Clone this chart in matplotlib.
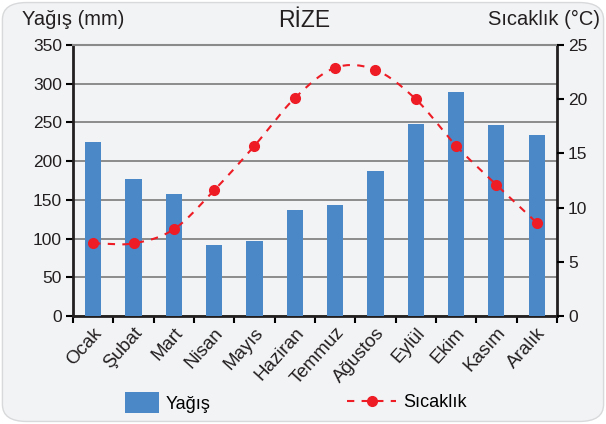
import numpy as np
import matplotlib.pyplot as plt
import matplotlib.transforms as mtransforms
from matplotlib.patches import FancyBboxPatch, Patch
from matplotlib.lines import Line2D

plt.rcParams['font.family'] = ['Liberation Sans', 'DejaVu Sans']

aylar = ['Ocak', 'Şubat', 'Mart', 'Nisan', 'Mayıs', 'Haziran', 'Temmuz',
         'Ağustos', 'Eylül', 'Ekim', 'Kasım', 'Aralık']
yagis = [225, 177, 158, 92, 97, 137, 143, 187, 248, 289, 247, 234]
sicaklik = [6.7, 6.7, 8.0, 11.6, 15.7, 20.1, 22.9, 22.7, 20.0, 15.7, 12.1, 8.6]

bar_renk = '#4a88c7'
cizgi_renk = '#ee1c25'
zemin = '#f2f3f5'
yazi = '#231f20'

fig = plt.figure(figsize=(6.06, 4.24), dpi=100)
fig.patch.set_facecolor('white')
# yuvarlak köşeli arka plan
fig.patches.append(FancyBboxPatch((0.004, 0.006), 0.992, 0.988,
                                  boxstyle='round,pad=0,rounding_size=0.04',
                                  transform=fig.transFigure, facecolor=zemin,
                                  edgecolor='#d8d9db', linewidth=1, zorder=-5))

ax = fig.add_axes([0.1205, 0.2547, 0.7985, 0.6392])
ax.set_facecolor(zemin)
x = np.arange(len(aylar))
ax.bar(x, yagis, width=0.4, color=bar_renk, zorder=3)
ax.set_xlim(-0.5, 11.5)
ax.set_ylim(0, 350)
ax.set_yticks(range(0, 351, 50))
ax.yaxis.grid(True, color='#7a7a7a', linewidth=1.2, zorder=1)
ax.set_xticks(np.arange(-0.5, 12, 1))
ax.set_xticklabels([])
ax.set_xticks(x, minor=True)
ax.set_xticklabels(aylar, minor=True, rotation=48, ha='right', va='top',
                   rotation_mode='anchor', fontsize=13.5, color=yazi)
kaydir = mtransforms.ScaledTranslation(0.14, -0.05, fig.dpi_scale_trans)
for lbl in ax.get_xticklabels(minor=True):
    lbl.set_transform(lbl.get_transform() + kaydir)
ax.tick_params(axis='x', which='minor', length=0, pad=6)
ax.tick_params(axis='x', which='major', length=5, width=1.5, direction='out')
ax.tick_params(axis='y', length=5, width=1.5, labelsize=12.5, labelcolor=yazi, pad=3)
for s in ['left', 'bottom', 'right']:
    ax.spines[s].set_linewidth(2)
    ax.spines[s].set_color(yazi)
ax.spines['top'].set_color('#8a8a8a')
ax.spines['top'].set_linewidth(1.5)

ax2 = ax.twinx()
ax2.set_ylim(0, 25)
ax2.set_yticks(range(0, 26, 5))
ax2.tick_params(axis='y', length=5, width=1.5, labelsize=12.5, labelcolor=yazi, pad=3)
for s in ['left', 'bottom', 'right', 'top']:
    ax2.spines[s].set_visible(False)

# Catmull-Rom ile yumuşak eğri
def yumusat(xs, ys, n=20):
    xs = np.asarray(xs, float)
    ys = np.asarray(ys, float)
    px = np.concatenate([[2 * xs[0] - xs[1]], xs, [2 * xs[-1] - xs[-2]]])
    py = np.concatenate([[2 * ys[0] - ys[1]], ys, [2 * ys[-1] - ys[-2]]])
    ox, oy = [], []
    t = np.linspace(0, 1, n, endpoint=False)
    for i in range(1, len(px) - 2):
        for arr, out in ((px, ox), (py, oy)):
            p0, p1, p2, p3 = arr[i - 1], arr[i], arr[i + 1], arr[i + 2]
            out.extend(0.5 * ((2 * p1) + (-p0 + p2) * t + (2 * p0 - 5 * p1 + 4 * p2 - p3) * t ** 2
                              + (-p0 + 3 * p1 - 3 * p2 + p3) * t ** 3))
    ox.append(xs[-1])
    oy.append(ys[-1])
    return np.array(ox), np.array(oy)

sx, sy = yumusat(x, sicaklik)
ax2.plot(sx, sy, color=cizgi_renk, linestyle=(0, (3.5, 3.5)), linewidth=1.5, zorder=4)
ax2.plot(x, sicaklik, 'o', color=cizgi_renk, markersize=7, zorder=5)

fig.text(0.036, 0.955, 'Yağış (mm)', fontsize=14.5, color=yazi, va='center')
fig.text(0.502, 0.952, 'RİZE', fontsize=16.5, color=yazi, ha='center', va='center')
fig.text(0.99, 0.955, 'Sıcaklık (°C)', fontsize=14.5, color=yazi, ha='right', va='center')

handles = [Patch(facecolor=bar_renk, edgecolor='none'),
           Line2D([], [], color=cizgi_renk, linestyle=(0, (3.5, 3.5)), linewidth=1.5,
                  marker='o', markersize=7)]
fig.legend(handles[:1], ['Yağış'], loc='center left', bbox_to_anchor=(0.18, 0.05),
           frameon=False, fontsize=13, handlelength=1.85, handleheight=1.4, handletextpad=0.4)
fig.legend(handles[1:], ['Sıcaklık'], loc='center left', bbox_to_anchor=(0.546, 0.05),
           frameon=False, fontsize=13, handlelength=2.7, handletextpad=0.4)

fig.savefig('out.png', dpi=100, facecolor='white')
